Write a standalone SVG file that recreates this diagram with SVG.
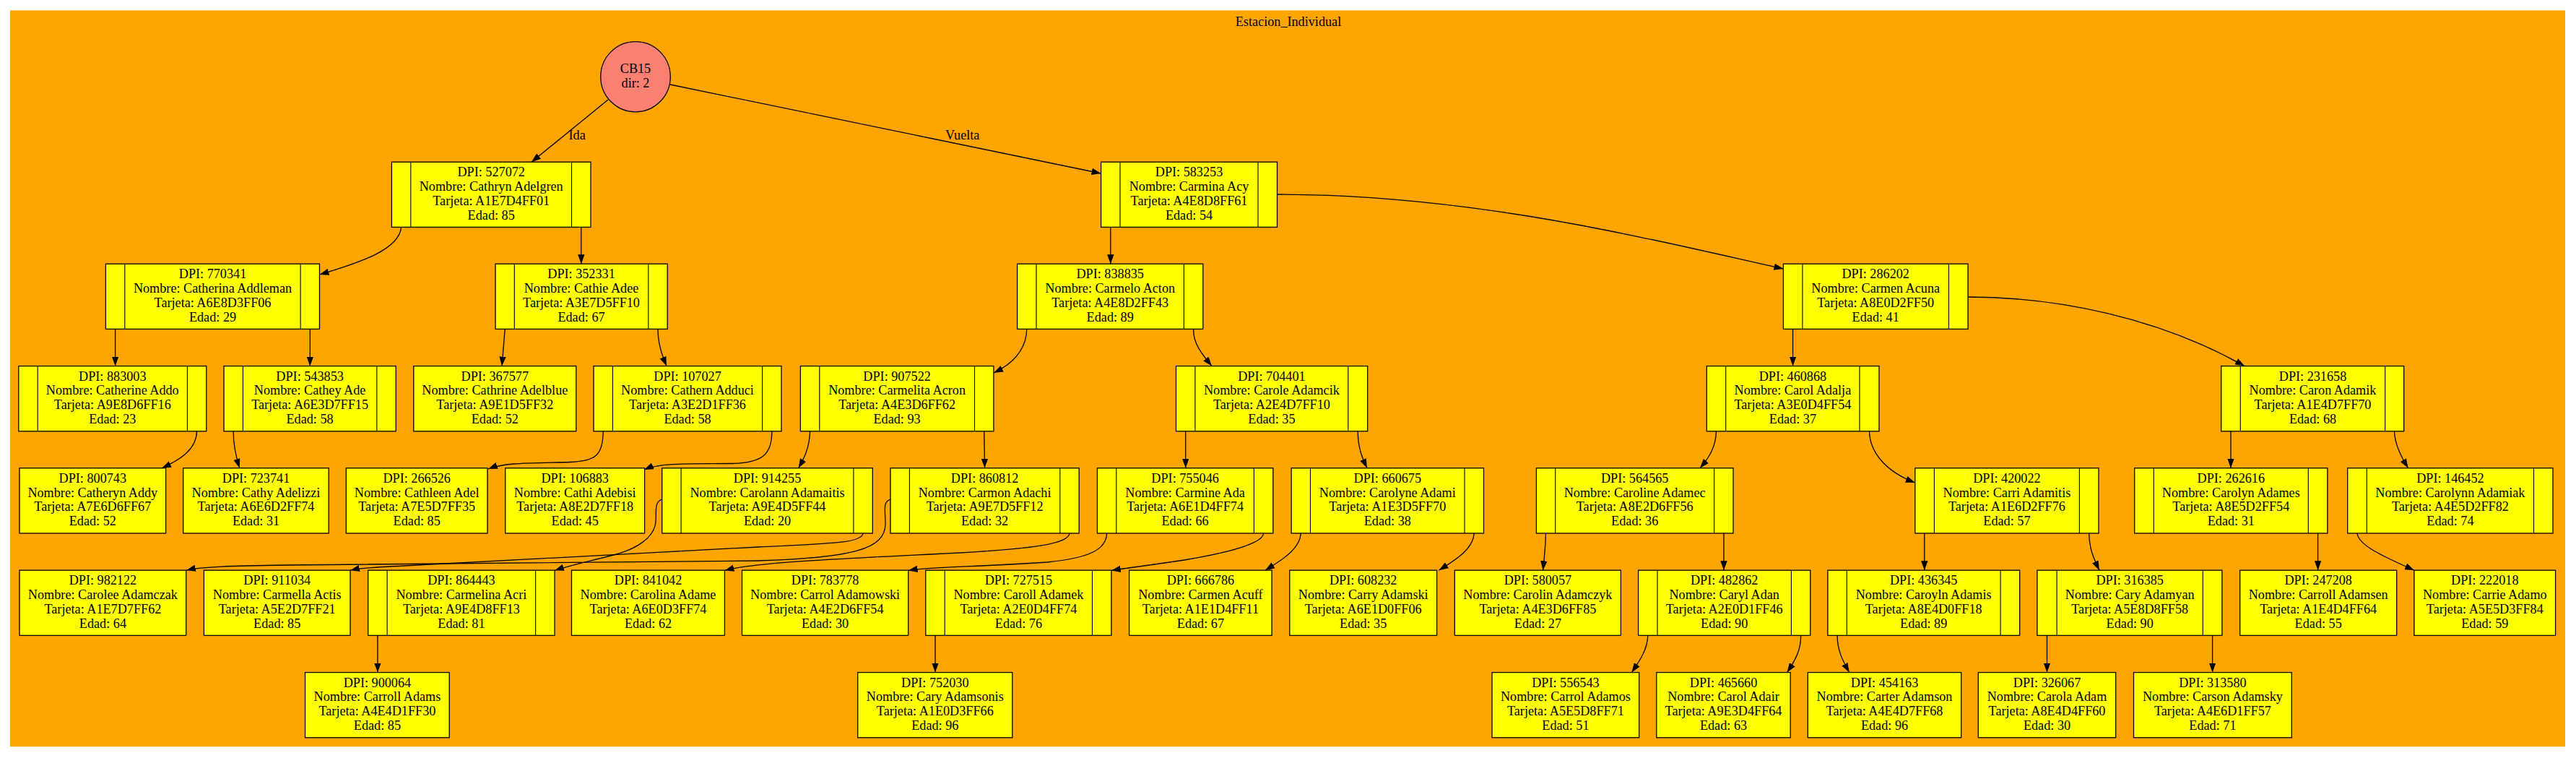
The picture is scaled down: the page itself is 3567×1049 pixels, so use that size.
<svg xmlns="http://www.w3.org/2000/svg" width="3567" height="1049" viewBox="0 0 3567 1049">
<style>
.bg{fill:#ffa500;stroke:none}
.box{fill:#ffff00;stroke:#000;stroke-width:1.3}
.dv{stroke:#000;stroke-width:1.1}
.t{font-family:"Liberation Serif","Times New Roman",serif;font-size:18.2px;text-anchor:middle;fill:#000}
.lbl{font-family:"Liberation Serif","Times New Roman",serif;font-size:18.2px;fill:#000}
.e{fill:none;stroke:#000;stroke-width:1.3;marker-end:url(#ah)}
</style>
<defs>
<marker id="ah" viewBox="0 0 13 9.4" refX="13" refY="4.7" markerWidth="13" markerHeight="9.4" markerUnits="userSpaceOnUse" orient="auto"><path d="M0,0 L13,4.7 L0,9.4 Z" fill="#000"/></marker>
</defs>
<rect width="3567" height="1049" fill="#fff"/>
<rect class="bg" x="14" y="14.4" width="3538" height="1018.8"/>
<text class="t" x="1784" y="36">Estacion_Individual</text>

<g id="edges">
<path class="e" d="M842,138 L736,224.2"/>
<text class="lbl" x="787.5" y="193.3">Ida</text>
<path class="e" d="M928,117 L1524.6,240"/>
<text class="lbl" x="1309" y="193.3">Vuelta</text>
<path class="e" d="M555.6,314.4 C553,345 500,363 442.5,380"/>
<path class="e" d="M804.8,314.4 L804.8,365.2"/>
<path class="e" d="M1537.8,314.4 L1537.8,365.2"/>
<path class="e" d="M1768.5,269 C2040,269 2280,330 2469.4,372"/>
<path class="e" d="M159.6,455.4 L159.6,506.6"/>
<path class="e" d="M429.3,455.4 L429.3,506.6"/>
<path class="e" d="M699.2,455.4 L695,506.6"/>
<path class="e" d="M911,455.4 C911,476 917,492 923,506.6"/>
<path class="e" d="M1421.8,455.4 C1421,482 1405,502 1376,516"/>
<path class="e" d="M1652.6,455.4 C1652,476 1666,492 1678,506.6"/>
<path class="e" d="M2482.6,455.4 L2482.6,506.6"/>
<path class="e" d="M2725.1,411 C2850,411 2990,440 3108,506.6"/>
<path class="e" d="M272.6,596.8 C272,622 250,636 224,648"/>
<path class="e" d="M323.2,596.8 C323,616 327,633 331.8,647.8"/>
<path class="e" d="M835.2,596.8 C835,630 825,638 790,639.5 C730,641 700,640 676,649"/>
<path class="e" d="M1068.8,596.8 C1069,630 1055,641 1010,641.5 C960,642 915,640 892,650"/>
<path class="e" d="M1121.6,596.8 C1121,620 1113,635 1105.6,647.8"/>
<path class="e" d="M1362.7,596.8 L1363.6,647.8"/>
<path class="e" d="M1641.7,596.8 L1641.7,647.8"/>
<path class="e" d="M1880.3,596.8 C1880,620 1887,635 1893,647.8"/>
<path class="e" d="M2376.5,596.8 C2376,620 2365,635 2354,647.8"/>
<path class="e" d="M2588.5,596.8 C2589,625 2610,652 2651.8,668"/>
<path class="e" d="M3089,596.8 L3089,647.8"/>
<path class="e" d="M3315.5,596.8 C3316,615 3325,632 3334.6,647.8"/>
<path class="e" d="M1195.1,738 C1193,752 1150,752 1050,757 L560,783 C520,785 500,786 485,789.2"/>
<path class="e" d="M916.7,691 C906,695 909,705 908,722 C906,745 880,760 850,768 C815,777 790,782 768,789.5"/>
<path class="e" d="M1233,691 C1222,695 1226,705 1226,725 C1226,760 1180,772 1050,776 L400,782 C320,783 280,784 258,789.2"/>
<path class="e" d="M1481,738 C1479,752 1440,760 1290,767 C1120,775 1040,780 1003.4,789.5"/>
<path class="e" d="M1532.6,738 C1532,760 1510,772 1450,778 C1350,785 1290,784 1257.7,789.5"/>
<path class="e" d="M1749.6,738 C1749,752 1700,765 1640,775 C1580,784 1560,786 1538.9,789.5"/>
<path class="e" d="M1801.3,738 C1800,760 1775,775 1752,789.2"/>
<path class="e" d="M2041.2,738 C2040,760 2015,775 1992.5,789.2"/>
<path class="e" d="M2140.5,738 C2140,760 2138,775 2136.5,789.2"/>
<path class="e" d="M2387,738 L2387,789.2"/>
<path class="e" d="M2664.8,738 L2664.8,789.2"/>
<path class="e" d="M2892.7,738 C2893,760 2900,775 2907,789.2"/>
<path class="e" d="M3209.6,738 L3209.6,789.2"/>
<path class="e" d="M3264,738 C3266,755 3300,770 3343,789.2"/>
<path class="e" d="M522.9,879.4 L522.9,930.6"/>
<path class="e" d="M1295,879.4 L1295,930.6"/>
<path class="e" d="M2281.8,879.4 C2281,900 2270,915 2259.4,930.6"/>
<path class="e" d="M2493.6,879.4 C2494,900 2485,915 2474.6,930.6"/>
<path class="e" d="M2544.1,879.4 C2544,900 2552,915 2560.7,930.6"/>
<path class="e" d="M2834.5,879.4 L2834.5,930.6"/>
<path class="e" d="M3063.6,879.4 L3063.6,930.6"/>
</g>

<g id="nCB15"><ellipse cx="880" cy="106.2" rx="48.3" ry="48.6" fill="#fa8072" stroke="#000" stroke-width="1.3"/><text class="t"><tspan x="880" y="101">CB15</tspan><tspan x="880" y="121">dir: 2</tspan></text></g>

<g id="n527072"><rect class="box" x="542.4" y="224.2" width="275.6" height="90.2"/><line class="dv" x1="568.8" y1="224.2" x2="568.8" y2="314.4"/><line class="dv" x1="791.5" y1="224.2" x2="791.5" y2="314.4"/><text class="t"><tspan x="680.2" y="244.2">DPI: 527072</tspan><tspan x="680.2" dy="19.8">Nombre: Cathryn Adelgren</tspan><tspan x="680.2" dy="19.8">Tarjeta: A1E7D4FF01</tspan><tspan x="680.2" dy="19.8">Edad: 85</tspan></text></g>
<g id="n583253"><rect class="box" x="1524.6" y="224.2" width="243.9" height="90.2"/><line class="dv" x1="1551" y1="224.2" x2="1551" y2="314.4"/><line class="dv" x1="1742" y1="224.2" x2="1742" y2="314.4"/><text class="t"><tspan x="1646.5" y="244.2">DPI: 583253</tspan><tspan x="1646.5" dy="19.8">Nombre: Carmina Acy</tspan><tspan x="1646.5" dy="19.8">Tarjeta: A4E8D8FF61</tspan><tspan x="1646.5" dy="19.8">Edad: 54</tspan></text></g>

<g id="n770341"><rect class="box" x="146.4" y="365.2" width="296.1" height="90.2"/><line class="dv" x1="172.8" y1="365.2" x2="172.8" y2="455.4"/><line class="dv" x1="416.1" y1="365.2" x2="416.1" y2="455.4"/><text class="t"><tspan x="294.5" y="385.2">DPI: 770341</tspan><tspan x="294.5" dy="19.8">Nombre: Catherina Addleman</tspan><tspan x="294.5" dy="19.8">Tarjeta: A6E8D3FF06</tspan><tspan x="294.5" dy="19.8">Edad: 29</tspan></text></g>
<g id="n352331"><rect class="box" x="686" y="365.2" width="238.2" height="90.2"/><line class="dv" x1="712.3" y1="365.2" x2="712.3" y2="455.4"/><line class="dv" x1="897.8" y1="365.2" x2="897.8" y2="455.4"/><text class="t"><tspan x="805" y="385.2">DPI: 352331</tspan><tspan x="805" dy="19.8">Nombre: Cathie Adee</tspan><tspan x="805" dy="19.8">Tarjeta: A3E7D5FF10</tspan><tspan x="805" dy="19.8">Edad: 67</tspan></text></g>
<g id="n838835"><rect class="box" x="1408.6" y="365.2" width="257.2" height="90.2"/><line class="dv" x1="1435" y1="365.2" x2="1435" y2="455.4"/><line class="dv" x1="1639.4" y1="365.2" x2="1639.4" y2="455.4"/><text class="t"><tspan x="1537.2" y="385.2">DPI: 838835</tspan><tspan x="1537.2" dy="19.8">Nombre: Carmelo Acton</tspan><tspan x="1537.2" dy="19.8">Tarjeta: A4E8D2FF43</tspan><tspan x="1537.2" dy="19.8">Edad: 89</tspan></text></g>
<g id="n286202"><rect class="box" x="2469.4" y="365.2" width="255.7" height="90.2"/><line class="dv" x1="2495.9" y1="365.2" x2="2495.9" y2="455.4"/><line class="dv" x1="2698.5" y1="365.2" x2="2698.5" y2="455.4"/><text class="t"><tspan x="2597.2" y="385.2">DPI: 286202</tspan><tspan x="2597.2" dy="19.8">Nombre: Carmen Acuna</tspan><tspan x="2597.2" dy="19.8">Tarjeta: A8E0D2FF50</tspan><tspan x="2597.2" dy="19.8">Edad: 41</tspan></text></g>

<g id="n883003"><rect class="box" x="25.8" y="506.6" width="260" height="90.2"/><line class="dv" x1="52.2" y1="506.6" x2="52.2" y2="596.8"/><line class="dv" x1="259.4" y1="506.6" x2="259.4" y2="596.8"/><text class="t"><tspan x="155.8" y="526.6">DPI: 883003</tspan><tspan x="155.8" dy="19.8">Nombre: Catherine Addo</tspan><tspan x="155.8" dy="19.8">Tarjeta: A9E8D6FF16</tspan><tspan x="155.8" dy="19.8">Edad: 23</tspan></text></g>
<g id="n543853"><rect class="box" x="310" y="506.6" width="238.2" height="90.2"/><line class="dv" x1="336.4" y1="506.6" x2="336.4" y2="596.8"/><line class="dv" x1="521.8" y1="506.6" x2="521.8" y2="596.8"/><text class="t"><tspan x="429.1" y="526.6">DPI: 543853</tspan><tspan x="429.1" dy="19.8">Nombre: Cathey Ade</tspan><tspan x="429.1" dy="19.8">Tarjeta: A6E3D7FF15</tspan><tspan x="429.1" dy="19.8">Edad: 58</tspan></text></g>
<g id="n367577"><rect class="box" x="572.8" y="506.6" width="225" height="90.2"/><text class="t"><tspan x="685.3" y="526.6">DPI: 367577</tspan><tspan x="685.3" dy="19.8">Nombre: Cathrine Adelblue</tspan><tspan x="685.3" dy="19.8">Tarjeta: A9E1D5FF32</tspan><tspan x="685.3" dy="19.8">Edad: 52</tspan></text></g>
<g id="n107027"><rect class="box" x="822" y="506.6" width="260" height="90.2"/><line class="dv" x1="848.4" y1="506.6" x2="848.4" y2="596.8"/><line class="dv" x1="1055.6" y1="506.6" x2="1055.6" y2="596.8"/><text class="t"><tspan x="952" y="526.6">DPI: 107027</tspan><tspan x="952" dy="19.8">Nombre: Cathern Adduci</tspan><tspan x="952" dy="19.8">Tarjeta: A3E2D1FF36</tspan><tspan x="952" dy="19.8">Edad: 58</tspan></text></g>
<g id="n907522"><rect class="box" x="1108.4" y="506.6" width="267.5" height="90.2"/><line class="dv" x1="1134.8" y1="506.6" x2="1134.8" y2="596.8"/><line class="dv" x1="1349.5" y1="506.6" x2="1349.5" y2="596.8"/><text class="t"><tspan x="1242.1" y="526.6">DPI: 907522</tspan><tspan x="1242.1" dy="19.8">Nombre: Carmelita Acron</tspan><tspan x="1242.1" dy="19.8">Tarjeta: A4E3D6FF62</tspan><tspan x="1242.1" dy="19.8">Edad: 93</tspan></text></g>
<g id="n704401"><rect class="box" x="1628.5" y="506.6" width="265.2" height="90.2"/><line class="dv" x1="1654.9" y1="506.6" x2="1654.9" y2="596.8"/><line class="dv" x1="1866.8" y1="506.6" x2="1866.8" y2="596.8"/><text class="t"><tspan x="1760.9" y="526.6">DPI: 704401</tspan><tspan x="1760.9" dy="19.8">Nombre: Carole Adamcik</tspan><tspan x="1760.9" dy="19.8">Tarjeta: A2E4D7FF10</tspan><tspan x="1760.9" dy="19.8">Edad: 35</tspan></text></g>
<g id="n460868"><rect class="box" x="2363.3" y="506.6" width="238.7" height="90.2"/><line class="dv" x1="2389.7" y1="506.6" x2="2389.7" y2="596.8"/><line class="dv" x1="2575" y1="506.6" x2="2575" y2="596.8"/><text class="t"><tspan x="2482.4" y="526.6">DPI: 460868</tspan><tspan x="2482.4" dy="19.8">Nombre: Carol Adalja</tspan><tspan x="2482.4" dy="19.8">Tarjeta: A3E0D4FF54</tspan><tspan x="2482.4" dy="19.8">Edad: 37</tspan></text></g>
<g id="n231658"><rect class="box" x="3075.7" y="506.6" width="253" height="90.2"/><line class="dv" x1="3102.3" y1="506.6" x2="3102.3" y2="596.8"/><line class="dv" x1="3302.7" y1="506.6" x2="3302.7" y2="596.8"/><text class="t"><tspan x="3202.5" y="526.6">DPI: 231658</tspan><tspan x="3202.5" dy="19.8">Nombre: Caron Adamik</tspan><tspan x="3202.5" dy="19.8">Tarjeta: A1E4D7FF70</tspan><tspan x="3202.5" dy="19.8">Edad: 68</tspan></text></g>

<g id="n800743"><rect class="box" x="27" y="647.8" width="202.6" height="90.2"/><text class="t"><tspan x="128.3" y="667.8">DPI: 800743</tspan><tspan x="128.3" dy="19.8">Nombre: Catheryn Addy</tspan><tspan x="128.3" dy="19.8">Tarjeta: A7E6D6FF67</tspan><tspan x="128.3" dy="19.8">Edad: 52</tspan></text></g>
<g id="n723741"><rect class="box" x="253.7" y="647.8" width="201.5" height="90.2"/><text class="t"><tspan x="354.5" y="667.8">DPI: 723741</tspan><tspan x="354.5" dy="19.8">Nombre: Cathy Adelizzi</tspan><tspan x="354.5" dy="19.8">Tarjeta: A6E6D2FF74</tspan><tspan x="354.5" dy="19.8">Edad: 31</tspan></text></g>
<g id="n266526"><rect class="box" x="479.3" y="647.8" width="195.7" height="90.2"/><text class="t"><tspan x="577.2" y="667.8">DPI: 266526</tspan><tspan x="577.2" dy="19.8">Nombre: Cathleen Adel</tspan><tspan x="577.2" dy="19.8">Tarjeta: A7E5D7FF35</tspan><tspan x="577.2" dy="19.8">Edad: 85</tspan></text></g>
<g id="n106883"><rect class="box" x="699.7" y="647.8" width="192.9" height="90.2"/><text class="t"><tspan x="796.2" y="667.8">DPI: 106883</tspan><tspan x="796.2" dy="19.8">Nombre: Cathi Adebisi</tspan><tspan x="796.2" dy="19.8">Tarjeta: A8E2D7FF18</tspan><tspan x="796.2" dy="19.8">Edad: 45</tspan></text></g>
<g id="n914255"><rect class="box" x="916.7" y="647.8" width="291.6" height="90.2"/><line class="dv" x1="943.1" y1="647.8" x2="943.1" y2="738"/><line class="dv" x1="1181.9" y1="647.8" x2="1181.9" y2="738"/><text class="t"><tspan x="1062.5" y="667.8">DPI: 914255</tspan><tspan x="1062.5" dy="19.8">Nombre: Carolann Adamaitis</tspan><tspan x="1062.5" dy="19.8">Tarjeta: A9E4D5FF44</tspan><tspan x="1062.5" dy="19.8">Edad: 20</tspan></text></g>
<g id="n860812"><rect class="box" x="1233" y="647.8" width="261.2" height="90.2"/><line class="dv" x1="1259.4" y1="647.8" x2="1259.4" y2="738"/><line class="dv" x1="1467.8" y1="647.8" x2="1467.8" y2="738"/><text class="t"><tspan x="1363.6" y="667.8">DPI: 860812</tspan><tspan x="1363.6" dy="19.8">Nombre: Carmon Adachi</tspan><tspan x="1363.6" dy="19.8">Tarjeta: A9E7D5FF12</tspan><tspan x="1363.6" dy="19.8">Edad: 32</tspan></text></g>
<g id="n755046"><rect class="box" x="1519.4" y="647.8" width="243.4" height="90.2"/><line class="dv" x1="1545.8" y1="647.8" x2="1545.8" y2="738"/><line class="dv" x1="1736.4" y1="647.8" x2="1736.4" y2="738"/><text class="t"><tspan x="1641.1" y="667.8">DPI: 755046</tspan><tspan x="1641.1" dy="19.8">Nombre: Carmine Ada</tspan><tspan x="1641.1" dy="19.8">Tarjeta: A6E1D4FF74</tspan><tspan x="1641.1" dy="19.8">Edad: 66</tspan></text></g>
<g id="n660675"><rect class="box" x="1788.1" y="647.8" width="266.4" height="90.2"/><line class="dv" x1="1814.5" y1="647.8" x2="1814.5" y2="738"/><line class="dv" x1="2028" y1="647.8" x2="2028" y2="738"/><text class="t"><tspan x="1921.3" y="667.8">DPI: 660675</tspan><tspan x="1921.3" dy="19.8">Nombre: Carolyne Adami</tspan><tspan x="1921.3" dy="19.8">Tarjeta: A1E3D5FF70</tspan><tspan x="1921.3" dy="19.8">Edad: 38</tspan></text></g>
<g id="n564565"><rect class="box" x="2127.4" y="647.8" width="272.6" height="90.2"/><line class="dv" x1="2153.7" y1="647.8" x2="2153.7" y2="738"/><line class="dv" x1="2373.6" y1="647.8" x2="2373.6" y2="738"/><text class="t"><tspan x="2263.7" y="667.8">DPI: 564565</tspan><tspan x="2263.7" dy="19.8">Nombre: Caroline Adamec</tspan><tspan x="2263.7" dy="19.8">Tarjeta: A8E2D6FF56</tspan><tspan x="2263.7" dy="19.8">Edad: 36</tspan></text></g>
<g id="n420022"><rect class="box" x="2651.8" y="647.8" width="254.2" height="90.2"/><line class="dv" x1="2678.4" y1="647.8" x2="2678.4" y2="738"/><line class="dv" x1="2879.4" y1="647.8" x2="2879.4" y2="738"/><text class="t"><tspan x="2778.9" y="667.8">DPI: 420022</tspan><tspan x="2778.9" dy="19.8">Nombre: Carri Adamitis</tspan><tspan x="2778.9" dy="19.8">Tarjeta: A1E6D2FF76</tspan><tspan x="2778.9" dy="19.8">Edad: 57</tspan></text></g>
<g id="n262616"><rect class="box" x="2955.7" y="647.8" width="267.2" height="90.2"/><line class="dv" x1="2982.3" y1="647.8" x2="2982.3" y2="738"/><line class="dv" x1="3196.3" y1="647.8" x2="3196.3" y2="738"/><text class="t"><tspan x="3089.3" y="667.8">DPI: 262616</tspan><tspan x="3089.3" dy="19.8">Nombre: Carolyn Adames</tspan><tspan x="3089.3" dy="19.8">Tarjeta: A8E5D2FF54</tspan><tspan x="3089.3" dy="19.8">Edad: 31</tspan></text></g>
<g id="n146452"><rect class="box" x="3250.7" y="647.8" width="284.3" height="90.2"/><line class="dv" x1="3277.3" y1="647.8" x2="3277.3" y2="738"/><line class="dv" x1="3508.5" y1="647.8" x2="3508.5" y2="738"/><text class="t"><tspan x="3392.9" y="667.8">DPI: 146452</tspan><tspan x="3392.9" dy="19.8">Nombre: Carolynn Adamiak</tspan><tspan x="3392.9" dy="19.8">Tarjeta: A4E5D2FF82</tspan><tspan x="3392.9" dy="19.8">Edad: 74</tspan></text></g>

<g id="n982122"><rect class="box" x="27" y="789.2" width="230.7" height="90.2"/><text class="t"><tspan x="142.4" y="809.2">DPI: 982122</tspan><tspan x="142.4" dy="19.8">Nombre: Carolee Adamczak</tspan><tspan x="142.4" dy="19.8">Tarjeta: A1E7D7FF62</tspan><tspan x="142.4" dy="19.8">Edad: 64</tspan></text></g>
<g id="n911034"><rect class="box" x="282.4" y="789.2" width="202.6" height="90.2"/><text class="t"><tspan x="383.7" y="809.2">DPI: 911034</tspan><tspan x="383.7" dy="19.8">Nombre: Carmella Actis</tspan><tspan x="383.7" dy="19.8">Tarjeta: A5E2D7FF21</tspan><tspan x="383.7" dy="19.8">Edad: 85</tspan></text></g>
<g id="n864443"><rect class="box" x="509.7" y="789.2" width="258.3" height="90.2"/><line class="dv" x1="536.1" y1="789.2" x2="536.1" y2="879.4"/><line class="dv" x1="741.6" y1="789.2" x2="741.6" y2="879.4"/><text class="t"><tspan x="638.9" y="809.2">DPI: 864443</tspan><tspan x="638.9" dy="19.8">Nombre: Carmelina Acri</tspan><tspan x="638.9" dy="19.8">Tarjeta: A9E4D8FF13</tspan><tspan x="638.9" dy="19.8">Edad: 81</tspan></text></g>
<g id="n841042"><rect class="box" x="791.5" y="789.2" width="211.9" height="90.2"/><text class="t"><tspan x="897.5" y="809.2">DPI: 841042</tspan><tspan x="897.5" dy="19.8">Nombre: Carolina Adame</tspan><tspan x="897.5" dy="19.8">Tarjeta: A6E0D3FF74</tspan><tspan x="897.5" dy="19.8">Edad: 62</tspan></text></g>
<g id="n783778"><rect class="box" x="1027.5" y="789.2" width="230.2" height="90.2"/><text class="t"><tspan x="1142.6" y="809.2">DPI: 783778</tspan><tspan x="1142.6" dy="19.8">Nombre: Carrol Adamowski</tspan><tspan x="1142.6" dy="19.8">Tarjeta: A4E2D6FF54</tspan><tspan x="1142.6" dy="19.8">Edad: 30</tspan></text></g>
<g id="n727515"><rect class="box" x="1281.8" y="789.2" width="257.1" height="90.2"/><line class="dv" x1="1308.2" y1="789.2" x2="1308.2" y2="879.4"/><line class="dv" x1="1512.5" y1="789.2" x2="1512.5" y2="879.4"/><text class="t"><tspan x="1410.4" y="809.2">DPI: 727515</tspan><tspan x="1410.4" dy="19.8">Nombre: Caroll Adamek</tspan><tspan x="1410.4" dy="19.8">Tarjeta: A2E0D4FF74</tspan><tspan x="1410.4" dy="19.8">Edad: 76</tspan></text></g>
<g id="n666786"><rect class="box" x="1563.6" y="789.2" width="197.5" height="90.2"/><text class="t"><tspan x="1662.4" y="809.2">DPI: 666786</tspan><tspan x="1662.4" dy="19.8">Nombre: Carmen Acuff</tspan><tspan x="1662.4" dy="19.8">Tarjeta: A1E1D4FF11</tspan><tspan x="1662.4" dy="19.8">Edad: 67</tspan></text></g>
<g id="n608232"><rect class="box" x="1785.8" y="789.2" width="203.8" height="90.2"/><text class="t"><tspan x="1887.7" y="809.2">DPI: 608232</tspan><tspan x="1887.7" dy="19.8">Nombre: Carry Adamski</tspan><tspan x="1887.7" dy="19.8">Tarjeta: A6E1D0FF06</tspan><tspan x="1887.7" dy="19.8">Edad: 35</tspan></text></g>
<g id="n580057"><rect class="box" x="2014.3" y="789.2" width="230.1" height="90.2"/><text class="t"><tspan x="2129.4" y="809.2">DPI: 580057</tspan><tspan x="2129.4" dy="19.8">Nombre: Carolin Adamczyk</tspan><tspan x="2129.4" dy="19.8">Tarjeta: A4E3D6FF85</tspan><tspan x="2129.4" dy="19.8">Edad: 27</tspan></text></g>
<g id="n482862"><rect class="box" x="2268.6" y="789.2" width="238.2" height="90.2"/><line class="dv" x1="2295" y1="789.2" x2="2295" y2="879.4"/><line class="dv" x1="2480.4" y1="789.2" x2="2480.4" y2="879.4"/><text class="t"><tspan x="2387.7" y="809.2">DPI: 482862</tspan><tspan x="2387.7" dy="19.8">Nombre: Caryl Adan</tspan><tspan x="2387.7" dy="19.8">Tarjeta: A2E0D1FF46</tspan><tspan x="2387.7" dy="19.8">Edad: 90</tspan></text></g>
<g id="n436345"><rect class="box" x="2530.9" y="789.2" width="265.8" height="90.2"/><line class="dv" x1="2557.3" y1="789.2" x2="2557.3" y2="879.4"/><line class="dv" x1="2770.1" y1="789.2" x2="2770.1" y2="879.4"/><text class="t"><tspan x="2663.7" y="809.2">DPI: 436345</tspan><tspan x="2663.7" dy="19.8">Nombre: Caroyln Adamis</tspan><tspan x="2663.7" dy="19.8">Tarjeta: A8E4D0FF18</tspan><tspan x="2663.7" dy="19.8">Edad: 89</tspan></text></g>
<g id="n316385"><rect class="box" x="2820.9" y="789.2" width="256" height="90.2"/><line class="dv" x1="2848.1" y1="789.2" x2="2848.1" y2="879.4"/><line class="dv" x1="3050.3" y1="789.2" x2="3050.3" y2="879.4"/><text class="t"><tspan x="2949.2" y="809.2">DPI: 316385</tspan><tspan x="2949.2" dy="19.8">Nombre: Cary Adamyan</tspan><tspan x="2949.2" dy="19.8">Tarjeta: A5E8D8FF58</tspan><tspan x="2949.2" dy="19.8">Edad: 90</tspan></text></g>
<g id="n247208"><rect class="box" x="3101.7" y="789.2" width="217" height="90.2"/><text class="t"><tspan x="3210.2" y="809.2">DPI: 247208</tspan><tspan x="3210.2" dy="19.8">Nombre: Carroll Adamsen</tspan><tspan x="3210.2" dy="19.8">Tarjeta: A1E4D4FF64</tspan><tspan x="3210.2" dy="19.8">Edad: 55</tspan></text></g>
<g id="n222018"><rect class="box" x="3342.9" y="789.2" width="195.7" height="90.2"/><text class="t"><tspan x="3440.8" y="809.2">DPI: 222018</tspan><tspan x="3440.8" dy="19.8">Nombre: Carrie Adamo</tspan><tspan x="3440.8" dy="19.8">Tarjeta: A5E5D3FF84</tspan><tspan x="3440.8" dy="19.8">Edad: 59</tspan></text></g>

<g id="n900064"><rect class="box" x="422.5" y="930.6" width="199.7" height="90.2"/><text class="t"><tspan x="522.4" y="950.6">DPI: 900064</tspan><tspan x="522.4" dy="19.8">Nombre: Carroll Adams</tspan><tspan x="522.4" dy="19.8">Tarjeta: A4E4D1FF30</tspan><tspan x="522.4" dy="19.8">Edad: 85</tspan></text></g>
<g id="n752030"><rect class="box" x="1187.7" y="930.6" width="214.1" height="90.2"/><text class="t"><tspan x="1294.8" y="950.6">DPI: 752030</tspan><tspan x="1294.8" dy="19.8">Nombre: Cary Adamsonis</tspan><tspan x="1294.8" dy="19.8">Tarjeta: A1E0D3FF66</tspan><tspan x="1294.8" dy="19.8">Edad: 96</tspan></text></g>
<g id="n556543"><rect class="box" x="2066" y="930.6" width="203.7" height="90.2"/><text class="t"><tspan x="2167.9" y="950.6">DPI: 556543</tspan><tspan x="2167.9" dy="19.8">Nombre: Carrol Adamos</tspan><tspan x="2167.9" dy="19.8">Tarjeta: A5E5D8FF71</tspan><tspan x="2167.9" dy="19.8">Edad: 51</tspan></text></g>
<g id="n465660"><rect class="box" x="2293.8" y="930.6" width="185.4" height="90.2"/><text class="t"><tspan x="2386.5" y="950.6">DPI: 465660</tspan><tspan x="2386.5" dy="19.8">Nombre: Carol Adair</tspan><tspan x="2386.5" dy="19.8">Tarjeta: A9E3D4FF64</tspan><tspan x="2386.5" dy="19.8">Edad: 63</tspan></text></g>
<g id="n454163"><rect class="box" x="2503.3" y="930.6" width="212.4" height="90.2"/><text class="t"><tspan x="2609.5" y="950.6">DPI: 454163</tspan><tspan x="2609.5" dy="19.8">Nombre: Carter Adamson</tspan><tspan x="2609.5" dy="19.8">Tarjeta: A4E4D7FF68</tspan><tspan x="2609.5" dy="19.8">Edad: 96</tspan></text></g>
<g id="n326067"><rect class="box" x="2739.3" y="930.6" width="190.4" height="90.2"/><text class="t"><tspan x="2834.5" y="950.6">DPI: 326067</tspan><tspan x="2834.5" dy="19.8">Nombre: Carola Adam</tspan><tspan x="2834.5" dy="19.8">Tarjeta: A8E4D4FF60</tspan><tspan x="2834.5" dy="19.8">Edad: 30</tspan></text></g>
<g id="n313580"><rect class="box" x="2954.5" y="930.6" width="218.8" height="90.2"/><text class="t"><tspan x="3063.9" y="950.6">DPI: 313580</tspan><tspan x="3063.9" dy="19.8">Nombre: Carson Adamsky</tspan><tspan x="3063.9" dy="19.8">Tarjeta: A4E6D1FF57</tspan><tspan x="3063.9" dy="19.8">Edad: 71</tspan></text></g>
</svg>
